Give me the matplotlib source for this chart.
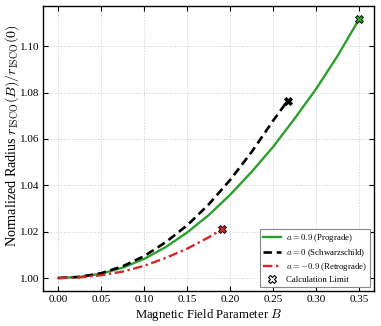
import matplotlib
matplotlib.use("Agg")
import matplotlib.pyplot as plt
from matplotlib.lines import Line2D

# Data
B_pro = [0.0, 0.025, 0.05, 0.075, 0.1, 0.125, 0.15, 0.175, 0.2, 0.225, 0.25, 0.275, 0.3, 0.325, 0.35]
r_pro = [1.0, 1.0005, 1.0019, 1.0045, 1.0083, 1.0134, 1.0197, 1.0272, 1.0360, 1.0459, 1.0567, 1.0689, 1.0817, 1.0960, 1.1118]

B_sch = [0.0, 0.025, 0.05, 0.075, 0.1, 0.125, 0.15, 0.175, 0.2, 0.225, 0.25, 0.2667]
r_sch = [1.0, 1.0005, 1.0021, 1.0051, 1.0095, 1.0155, 1.0228, 1.0318, 1.0424, 1.0545, 1.0680, 1.0765]

B_ret = [0.0, 0.025, 0.05, 0.075, 0.1, 0.125, 0.15, 0.175, 0.19]
r_ret = [1.0, 1.0003, 1.0012, 1.0028, 1.0053, 1.0087, 1.0127, 1.0176, 1.0210]

labels = [r"$a=0.9$ (Prograde)", r"$a=0$ (Schwarzschild)", r"$a=-0.9$ (Retrograde)"]
limit_label = "Calculation Limit"
xticks = [0.00, 0.05, 0.10, 0.15, 0.20, 0.25, 0.30, 0.35]
yticks = [1.00, 1.02, 1.04, 1.06, 1.08, 1.10]

plt.rcParams['font.family'] = ['Liberation Serif', 'DejaVu Serif']
plt.rcParams['mathtext.fontset'] = 'cm'

fig = plt.figure(figsize=(3.81, 3.26), dpi=100)
ax = fig.add_axes([0.1137, 0.1074, 0.8687, 0.8742])

green = '#2ca02c'
red = '#d62728'

ax.plot(B_pro, r_pro, color=green, lw=1.7, ls='-', label=labels[0])
ax.plot(B_sch, r_sch, color='black', lw=1.9, ls=(0, (3.2, 1.8)), label=labels[1])
ax.plot(B_ret, r_ret, color=red, lw=1.7, ls=(0, (4, 1.5, 1, 1.5)), label=labels[2])

for Bs, rs, c in [(B_pro, r_pro, green), (B_sch, r_sch, 'black'), (B_ret, r_ret, red)]:
    ax.plot([Bs[-1]], [rs[-1]], marker='X', ms=6, mfc=c, mec='black', mew=0.6, ls='none', zorder=5)

handles, labs = ax.get_legend_handles_labels()
handles.append(Line2D([], [], marker='X', ms=5.5, mfc='white', mec='black', mew=0.8, ls='none'))
labs.append(limit_label)
leg = ax.legend(handles, labs, loc='lower right', fontsize=6.3, frameon=True, fancybox=False,
                edgecolor='#888888', framealpha=1.0, handlelength=2.1, borderpad=0.35,
                labelspacing=0.3, handletextpad=0.6, borderaxespad=0.45)
leg.get_frame().set_linewidth(0.8)

ax.set_xticks(xticks)
ax.set_yticks(yticks)
ax.set_xticklabels([f"{v:.2f}" for v in xticks])
ax.set_yticklabels([f"{v:.2f}" for v in yticks])
ax.tick_params(direction='in', top=True, right=True, labelsize=8, length=3.5, width=0.8, pad=3)
ax.grid(True, ls=':', color='#cccccc', lw=0.7)
ax.set_axisbelow(True)

ax.set_xlabel(r"Magnetic Field Parameter $B$", fontsize=9.2, labelpad=2)
ax.set_ylabel(r"Normalized Radius $r_{\mathrm{ISCO}}(B)/r_{\mathrm{ISCO}}(0)$", fontsize=10.2)
ax.yaxis.set_label_coords(-0.066, 0.545)

for s in ax.spines.values():
    s.set_linewidth(1.0)

fig.savefig("out.png", dpi=100)
